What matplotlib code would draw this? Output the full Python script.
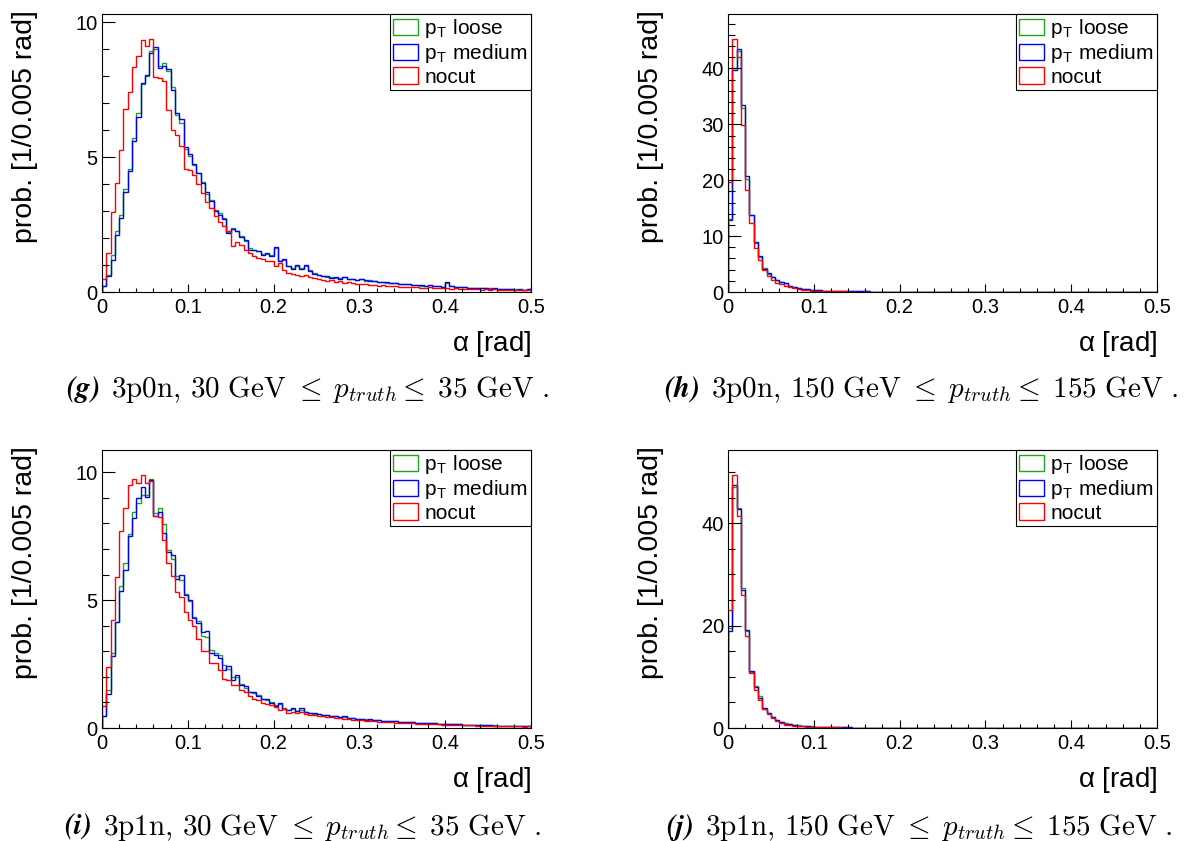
import matplotlib
matplotlib.use("Agg")
import matplotlib.pyplot as plt
from matplotlib.patches import Patch
from matplotlib.ticker import MultipleLocator, FuncFormatter
import numpy as np

plt.rcParams['font.family'] = ['Liberation Sans', 'DejaVu Sans']
plt.rcParams['mathtext.fontset'] = 'cm'

# alpha histograms: 100 bins of 0.005 rad between 0 and 0.5 rad
edges = np.linspace(0.0, 0.5, 101)

# 3p0n, 30-35 GeV
g_loose = [0.24, 0.62, 1.39, 2.25, 2.87, 3.82, 4.55, 5.72, 6.65, 7.72,
           8.00, 8.95, 9.00, 8.38, 8.50, 8.20, 7.62, 6.55, 6.28, 5.30,
           5.05, 4.72, 4.40, 4.08, 3.65, 3.40, 3.05, 2.92, 2.75, 2.22,
           2.36, 2.28, 2.08, 1.88, 1.62, 1.55, 1.53, 1.42, 1.40, 1.36,
           1.62, 1.16, 1.20, 0.98, 0.88, 0.97, 0.88, 0.95, 0.80, 0.70,
           0.62, 0.61, 0.56, 0.54, 0.53, 0.51, 0.54, 0.48, 0.49, 0.45,
           0.47, 0.42, 0.43, 0.39, 0.37, 0.37, 0.35, 0.34, 0.33, 0.30,
           0.29, 0.28, 0.27, 0.26, 0.24, 0.24, 0.25, 0.21, 0.22, 0.19,
           0.33, 0.21, 0.20, 0.18, 0.17, 0.16, 0.15, 0.15, 0.14, 0.14,
           0.13, 0.12, 0.12, 0.11, 0.11, 0.10, 0.10, 0.09, 0.09, 0.11]
g_medium = [0.21, 0.58, 1.18, 2.13, 2.75, 3.70, 4.49, 5.60, 6.50, 7.74,
            8.04, 8.88, 9.07, 8.30, 8.39, 8.27, 7.50, 6.62, 6.41, 5.38,
            5.10, 4.76, 4.42, 4.05, 3.70, 3.37, 3.00, 2.87, 2.71, 2.19,
            2.34, 2.26, 2.04, 1.92, 1.57, 1.57, 1.51, 1.39, 1.43, 1.35,
            1.66, 1.14, 1.23, 0.95, 0.85, 0.99, 0.85, 0.99, 0.77, 0.68,
            0.64, 0.60, 0.58, 0.52, 0.55, 0.50, 0.56, 0.47, 0.50, 0.46,
            0.48, 0.43, 0.42, 0.40, 0.38, 0.36, 0.37, 0.33, 0.34, 0.31,
            0.28, 0.30, 0.26, 0.27, 0.25, 0.23, 0.26, 0.22, 0.21, 0.20,
            0.36, 0.22, 0.19, 0.17, 0.18, 0.15, 0.16, 0.14, 0.13, 0.15,
            0.12, 0.13, 0.11, 0.12, 0.10, 0.11, 0.09, 0.10, 0.08, 0.12]
g_nocut = [0.48, 1.45, 2.97, 4.03, 5.27, 6.78, 7.42, 8.35, 8.76, 9.36,
           9.13, 9.40, 7.98, 7.92, 7.84, 6.74, 6.00, 5.82, 5.41, 4.55,
           4.52, 4.34, 4.01, 3.68, 3.35, 3.10, 2.81, 2.59, 2.44, 2.26,
           1.72, 1.85, 1.73, 1.55, 1.43, 1.33, 1.26, 1.24, 1.16, 1.14,
           0.95, 1.08, 0.83, 0.72, 0.68, 0.62, 0.58, 0.64, 0.55, 0.52,
           0.47, 0.45, 0.42, 0.45, 0.38, 0.40, 0.35, 0.36, 0.33, 0.30,
           0.30, 0.28, 0.27, 0.25, 0.24, 0.26, 0.22, 0.21, 0.22, 0.19,
           0.20, 0.18, 0.17, 0.19, 0.16, 0.15, 0.17, 0.14, 0.15, 0.13,
           0.16, 0.12, 0.13, 0.12, 0.11, 0.12, 0.10, 0.11, 0.09, 0.10,
           0.09, 0.10, 0.08, 0.09, 0.06, 0.08, 0.07, 0.07, 0.06, 0.08]

# 3p0n, 150-155 GeV
h_loose = [13.1, 40.1, 43.1, 33.0, 20.2, 13.7, 8.70, 6.30, 4.30, 3.30,
           2.60, 2.10, 1.80, 1.55, 1.10, 0.90, 0.75, 0.60, 0.50, 0.40,
           0.33, 0.34, 0.26, 0.23, 0.20, 0.18, 0.16, 0.14, 0.12, 0.11,
           0.10, 0.10, 0.09, 0.08, 0.08, 0.07, 0.06, 0.06, 0.06, 0.05,
           0.05, 0.05, 0.04, 0.04, 0.04, 0.04, 0.03, 0.03, 0.03, 0.03,
           0.03, 0.03, 0.03, 0.02, 0.02, 0.02, 0.02, 0.02, 0.02, 0.02,
           0.02, 0.02, 0.02, 0.02, 0.02, 0.01, 0.01, 0.01, 0.01, 0.01,
           0.01, 0.01, 0.01, 0.01, 0.01, 0.01, 0.01, 0.01, 0.01, 0.01,
           0.01, 0.01, 0.01, 0.01, 0.01, 0.01, 0.01, 0.01, 0.01, 0.01,
           0.01, 0.01, 0.01, 0.01, 0.01, 0.01, 0.01, 0.01, 0.01, 0.01]
h_medium = [12.8, 39.8, 43.4, 33.4, 20.7, 13.8, 8.90, 6.40, 4.16, 3.45,
            2.67, 2.08, 1.78, 1.66, 1.07, 0.89, 0.71, 0.59, 0.48, 0.40,
            0.32, 0.36, 0.26, 0.22, 0.20, 0.18, 0.15, 0.14, 0.12, 0.11,
            0.10, 0.09, 0.09, 0.08, 0.07, 0.07, 0.06, 0.06, 0.05, 0.05,
            0.05, 0.05, 0.04, 0.04, 0.04, 0.04, 0.03, 0.03, 0.03, 0.03,
            0.03, 0.03, 0.03, 0.02, 0.02, 0.02, 0.02, 0.02, 0.02, 0.02,
            0.02, 0.02, 0.02, 0.02, 0.02, 0.01, 0.01, 0.01, 0.01, 0.01,
            0.01, 0.01, 0.01, 0.01, 0.01, 0.01, 0.01, 0.01, 0.01, 0.01,
            0.01, 0.01, 0.01, 0.01, 0.01, 0.01, 0.01, 0.01, 0.01, 0.01,
            0.01, 0.01, 0.01, 0.01, 0.01, 0.01, 0.01, 0.01, 0.01, 0.01]
h_nocut = [19.7, 45.2, 42.1, 29.9, 18.3, 12.3, 7.84, 5.64, 3.86, 2.85,
           2.08, 1.66, 1.49, 1.07, 0.83, 0.71, 0.48, 0.42, 0.30, 0.24,
           0.20, 0.17, 0.15, 0.13, 0.12, 0.10, 0.10, 0.09, 0.08, 0.07,
           0.07, 0.06, 0.06, 0.05, 0.05, 0.05, 0.04, 0.04, 0.04, 0.04,
           0.03, 0.03, 0.03, 0.03, 0.03, 0.03, 0.02, 0.02, 0.02, 0.02,
           0.02, 0.02, 0.02, 0.02, 0.02, 0.02, 0.01, 0.01, 0.01, 0.01,
           0.01, 0.01, 0.01, 0.01, 0.01, 0.01, 0.01, 0.01, 0.01, 0.01,
           0.01, 0.01, 0.01, 0.01, 0.01, 0.01, 0.01, 0.01, 0.01, 0.01,
           0.01, 0.01, 0.01, 0.01, 0.01, 0.01, 0.01, 0.01, 0.01, 0.01,
           0.01, 0.01, 0.01, 0.01, 0.01, 0.01, 0.01, 0.01, 0.01, 0.01]

# 3p1n, 30-35 GeV
i_loose = [0.48, 1.50, 2.95, 4.13, 5.56, 6.44, 7.60, 8.46, 8.79, 9.11,
           9.10, 9.72, 8.40, 8.62, 7.97, 6.95, 6.60, 5.95, 5.80, 5.25,
           4.95, 4.35, 4.20, 3.60, 3.55, 3.05, 2.95, 2.85, 2.45, 2.30,
           2.00, 2.00, 1.72, 1.58, 1.40, 1.35, 1.28, 1.15, 1.10, 1.00,
           0.90, 0.92, 0.78, 0.72, 0.75, 0.66, 0.72, 0.64, 0.60, 0.56,
           0.54, 0.52, 0.50, 0.46, 0.46, 0.44, 0.43, 0.40, 0.38, 0.37,
           0.35, 0.34, 0.33, 0.31, 0.30, 0.29, 0.27, 0.27, 0.26, 0.25,
           0.24, 0.23, 0.22, 0.21, 0.21, 0.20, 0.19, 0.18, 0.17, 0.17,
           0.16, 0.15, 0.15, 0.14, 0.13, 0.13, 0.12, 0.12, 0.11, 0.11,
           0.10, 0.10, 0.09, 0.09, 0.08, 0.08, 0.08, 0.07, 0.07, 0.08]
i_medium = [0.46, 1.34, 2.83, 4.13, 5.34, 6.18, 7.49, 8.20, 8.98, 9.44,
            9.05, 9.70, 8.29, 8.46, 7.62, 6.90, 6.77, 5.82, 5.99, 5.21,
            5.01, 4.32, 4.10, 3.74, 3.78, 2.93, 2.86, 2.73, 2.28, 2.41,
            1.89, 2.08, 1.69, 1.63, 1.39, 1.39, 1.24, 1.13, 1.13, 0.98,
            0.85, 0.98, 0.74, 0.72, 0.78, 0.65, 0.78, 0.62, 0.60, 0.58,
            0.55, 0.52, 0.50, 0.47, 0.45, 0.44, 0.45, 0.40, 0.39, 0.37,
            0.35, 0.33, 0.34, 0.30, 0.31, 0.28, 0.27, 0.26, 0.27, 0.24,
            0.24, 0.22, 0.23, 0.21, 0.20, 0.19, 0.20, 0.18, 0.17, 0.17,
            0.16, 0.15, 0.15, 0.14, 0.13, 0.13, 0.12, 0.12, 0.11, 0.10,
            0.10, 0.09, 0.09, 0.08, 0.08, 0.08, 0.09, 0.07, 0.07, 0.08]
i_nocut = [0.85, 2.37, 4.23, 5.89, 7.72, 8.62, 9.50, 9.73, 9.57, 9.88,
           9.57, 9.67, 8.29, 8.24, 7.36, 6.47, 5.95, 5.30, 5.14, 4.52,
           4.23, 3.97, 3.49, 3.03, 3.03, 2.54, 2.54, 2.28, 1.91, 1.86,
           1.67, 1.67, 1.50, 1.41, 1.24, 1.15, 1.11, 0.98, 0.94, 0.89,
           0.81, 0.69, 0.74, 0.59, 0.61, 0.58, 0.62, 0.55, 0.52, 0.50,
           0.48, 0.46, 0.44, 0.42, 0.40, 0.38, 0.37, 0.35, 0.33, 0.32,
           0.30, 0.28, 0.29, 0.26, 0.25, 0.24, 0.23, 0.22, 0.21, 0.20,
           0.19, 0.18, 0.18, 0.17, 0.16, 0.15, 0.15, 0.14, 0.14, 0.13,
           0.13, 0.12, 0.12, 0.11, 0.10, 0.10, 0.10, 0.09, 0.09, 0.08,
           0.08, 0.08, 0.07, 0.07, 0.07, 0.06, 0.06, 0.06, 0.05, 0.06]

# 3p1n, 150-155 GeV
j_loose = [19.5, 47.0, 43.0, 27.3, 19.0, 11.0, 8.30, 6.20, 3.80, 3.00,
           2.10, 1.60, 1.20, 0.90, 0.80, 0.62, 0.50, 0.42, 0.35, 0.30,
           0.26, 0.23, 0.20, 0.18, 0.16, 0.14, 0.12, 0.11, 0.10, 0.09,
           0.08, 0.08, 0.07, 0.06, 0.06, 0.05, 0.05, 0.05, 0.04, 0.04,
           0.04, 0.04, 0.03, 0.03, 0.03, 0.03, 0.03, 0.02, 0.02, 0.02,
           0.02, 0.02, 0.02, 0.02, 0.02, 0.02, 0.02, 0.01, 0.01, 0.01,
           0.01, 0.01, 0.01, 0.01, 0.01, 0.01, 0.01, 0.01, 0.01, 0.01,
           0.01, 0.01, 0.01, 0.01, 0.01, 0.01, 0.01, 0.01, 0.01, 0.01,
           0.01, 0.01, 0.01, 0.01, 0.01, 0.01, 0.01, 0.01, 0.01, 0.01,
           0.01, 0.01, 0.01, 0.01, 0.01, 0.01, 0.01, 0.01, 0.01, 0.01]
j_medium = [18.9, 47.5, 42.7, 26.9, 19.1, 11.2, 8.10, 5.85, 3.90, 2.90,
            2.15, 1.63, 1.24, 0.85, 0.78, 0.59, 0.46, 0.40, 0.33, 0.28,
            0.25, 0.22, 0.19, 0.17, 0.15, 0.14, 0.12, 0.11, 0.10, 0.09,
            0.08, 0.07, 0.07, 0.06, 0.06, 0.05, 0.05, 0.04, 0.04, 0.04,
            0.04, 0.03, 0.03, 0.03, 0.03, 0.03, 0.02, 0.02, 0.02, 0.02,
            0.02, 0.02, 0.02, 0.02, 0.02, 0.02, 0.01, 0.01, 0.01, 0.01,
            0.01, 0.01, 0.01, 0.01, 0.01, 0.01, 0.01, 0.01, 0.01, 0.01,
            0.01, 0.01, 0.01, 0.01, 0.01, 0.01, 0.01, 0.01, 0.01, 0.01,
            0.01, 0.01, 0.01, 0.01, 0.01, 0.01, 0.01, 0.01, 0.01, 0.01,
            0.01, 0.01, 0.01, 0.01, 0.01, 0.01, 0.01, 0.01, 0.01, 0.01]
j_nocut = [23.0, 49.4, 41.4, 26.0, 18.0, 10.7, 7.48, 5.40, 3.70, 2.73,
           1.95, 1.43, 0.98, 0.65, 0.59, 0.46, 0.33, 0.30, 0.25, 0.20,
           0.18, 0.15, 0.13, 0.12, 0.11, 0.10, 0.09, 0.08, 0.07, 0.07,
           0.06, 0.06, 0.05, 0.05, 0.05, 0.04, 0.04, 0.04, 0.03, 0.03,
           0.03, 0.03, 0.03, 0.02, 0.02, 0.02, 0.02, 0.02, 0.02, 0.02,
           0.02, 0.02, 0.01, 0.01, 0.01, 0.01, 0.01, 0.01, 0.01, 0.01,
           0.01, 0.01, 0.01, 0.01, 0.01, 0.01, 0.01, 0.01, 0.01, 0.01,
           0.01, 0.01, 0.01, 0.01, 0.01, 0.01, 0.01, 0.01, 0.01, 0.01,
           0.01, 0.01, 0.01, 0.01, 0.01, 0.01, 0.01, 0.01, 0.01, 0.01,
           0.01, 0.01, 0.01, 0.01, 0.01, 0.01, 0.01, 0.01, 0.01, 0.01]

labels = [r'p$_\mathregular{T}$ loose', r'p$_\mathregular{T}$ medium', 'nocut']
colors = ['#1fa51f', '#0000ff', '#ff0000']

panels = [
    ('(g)', r'$\mathrm{3p0n,\,30\ GeV}\ \leq\; p_{truth} \leq\; \mathrm{35\ GeV}\ .$',
     [g_loose, g_medium, g_nocut], 10.31, 5, 1),
    ('(h)', r'$\mathrm{3p0n,\,150\ GeV}\ \leq\; p_{truth} \leq\; \mathrm{155\ GeV}\ .$',
     [h_loose, h_medium, h_nocut], 49.75, 10, 2),
    ('(i)', r'$\mathrm{3p1n,\,30\ GeV}\ \leq\; p_{truth} \leq\; \mathrm{35\ GeV}\ .$',
     [i_loose, i_medium, i_nocut], 10.87, 5, 1),
    ('(j)', r'$\mathrm{3p1n,\,150\ GeV}\ \leq\; p_{truth} \leq\; \mathrm{155\ GeV}\ .$',
     [j_loose, j_medium, j_nocut], 54.3, 20, 5),
]

W, H = 1191, 841
fig = plt.figure(figsize=(W / 100, H / 100), dpi=100)

# frame positions in pixels: left, top
frames = [(102, 14), (728, 14), (102, 450), (728, 450)]
fw, fh = 429, 278
# caption start (x) and baseline (y) in pixels
caps = [(66, 397), (664, 397), (64, 835), (666, 835)]

for (tag, body, series, ytop, ymaj, ymin), (fx, fy), (cx, cy) in zip(panels, frames, caps):
    ax = fig.add_axes([fx / W, 1 - (fy + fh) / H, fw / W, fh / H])
    for vals, c in zip(series, colors):
        ax.stairs(vals, edges, color=c, linewidth=1.0)
    ax.set_xlim(0, 0.5)
    ax.set_ylim(0, ytop)

    ax.xaxis.set_major_locator(MultipleLocator(0.1))
    ax.xaxis.set_minor_locator(MultipleLocator(0.02))
    ax.yaxis.set_major_locator(MultipleLocator(ymaj))
    ax.yaxis.set_minor_locator(MultipleLocator(ymin))
    fmt = FuncFormatter(lambda v, p: '%g' % round(v, 3))
    ax.xaxis.set_major_formatter(fmt)
    ax.yaxis.set_major_formatter(fmt)
    ax.tick_params(axis='x', which='major', direction='in', length=6, width=0.8,
                   labelsize=14.5, pad=4)
    ax.tick_params(axis='x', which='minor', direction='in', length=3, width=0.8)
    ax.tick_params(axis='y', which='major', direction='in', length=9.3, width=0.8,
                   labelsize=14.5, pad=3)
    ax.tick_params(axis='y', which='minor', direction='in', length=4.7, width=0.8)
    for s in ax.spines.values():
        s.set_linewidth(0.8)

    ax.set_xlabel(r'$\mathregular{\alpha}$ [rad]', fontsize=20, loc='right')
    ax.xaxis.set_label_coords(1.0, -0.132)
    ax.set_ylabel('prob. [1/0.005 rad]', fontsize=20.5, loc='top')
    ax.yaxis.set_label_coords(-0.15, 1.015)

    handles = [Patch(facecolor='none', edgecolor=c, linewidth=1.0) for c in colors]
    leg = ax.legend(handles, labels, loc='upper right', bbox_to_anchor=(1, 1),
                    borderaxespad=0, fontsize=15, handlelength=1.2,
                    handleheight=0.85, handletextpad=0.3, borderpad=0.15,
                    labelspacing=0.1, fancybox=False, framealpha=1)
    leg.get_frame().set_edgecolor('black')
    leg.get_frame().set_linewidth(0.8)

    t = fig.text(cx / W, 1 - cy / H, tag, fontfamily='STIXGeneral', fontweight='bold',
                 fontstyle='italic', fontsize=21, va='baseline', ha='left')
    ax.annotate(body, xy=(1, 1 - cy / H), xycoords=(t, 'figure fraction'),
                xytext=(8, 0), textcoords='offset points', fontsize=21,
                va='baseline', ha='left', annotation_clip=False)

fig.savefig('out.png', dpi=100)
